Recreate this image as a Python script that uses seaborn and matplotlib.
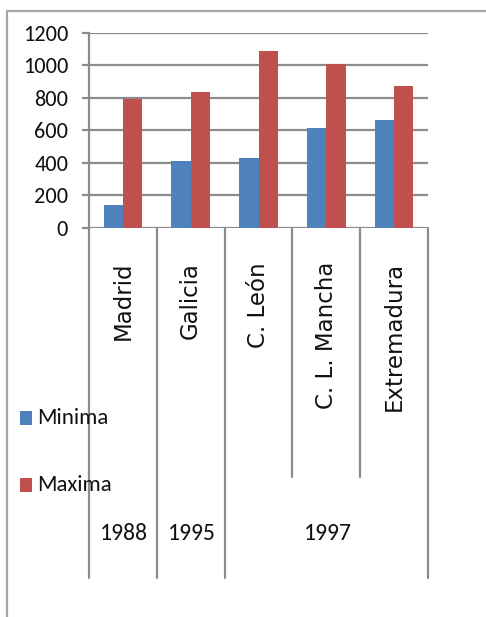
import matplotlib
matplotlib.use("Agg")
import matplotlib.pyplot as plt
from matplotlib.lines import Line2D
import matplotlib.transforms as mtransforms
import seaborn as sns
import pandas as pd

# Data
regions = ["Madrid", "Galicia", "C. León", "C. L. Mancha", "Extremadura"]
minima = [140, 410, 430, 615, 665]
maxima = [790, 835, 1090, 1005, 870]
years = ["1988", "1995", "1997"]
year_spans = [(0, 0), (1, 1), (2, 4)]  # first and last region index per year
series = ["Minima", "Maxima"]
colors = ["#4F81BD", "#C0504D"]
yticks = [0, 200, 400, 600, 800, 1000, 1200]

df = pd.DataFrame({
    "region": regions * 2,
    "serie": [series[0]] * len(regions) + [series[1]] * len(regions),
    "valor": minima + maxima,
})

sns.set_theme(style="white")
plt.rcParams["font.family"] = ["Carlito", "DejaVu Sans"]
wide = ["DejaVu Sans"]

W, H = 486, 617
fig = plt.figure(figsize=(W / 100, H / 100), dpi=100)
fig.patch.set_facecolor("white")

def fx(px):
    return px / W

def fy(py):
    return 1 - py / H

left, right, top, bottom = 89, 428, 32.7, 227.7
ax = fig.add_axes([fx(left), fy(bottom), fx(right - left), (bottom - top) / H])

sns.barplot(data=df, x="region", y="valor", hue="serie", order=regions,
            hue_order=series, palette=colors, width=0.57, saturation=1,
            edgecolor="none", ax=ax, legend=False)

grid_c = "#8C8C8C"
text_c = "#111111"
ax.set_ylim(0, 1200)
ax.set_xlim(-0.5, len(regions) - 0.5)
ax.set_yticks(yticks)
ax.set_yticklabels([str(v) for v in yticks], fontsize=16, color=text_c)
ax.set_xticks([])
ax.set_xlabel("")
ax.set_ylabel("")
ax.yaxis.grid(True, color=grid_c, linewidth=1.6)
ax.set_axisbelow(True)
ax.tick_params(axis="y", length=5, width=1.6, color=grid_c, pad=10, left=True)
for s in ["top", "right", "bottom"]:
    ax.spines[s].set_visible(False)
ax.spines["left"].set_color(grid_c)
ax.spines["left"].set_linewidth(1.6)

# Category separators below the axis (data x, figure y)
trans = mtransforms.blended_transform_factory(ax.transData, fig.transFigure)
outer_bounds = [-0.5, 0.5, 1.5, len(regions) - 0.5]
inner_bounds = [2.5, 3.5]
for b in outer_bounds:
    ax.add_line(Line2D([b, b], [fy(bottom), fy(578)], transform=trans,
                       color=grid_c, lw=1.6, clip_on=False))
for b in inner_bounds:
    ax.add_line(Line2D([b, b], [fy(bottom), fy(477)], transform=trans,
                       color=grid_c, lw=1.6, clip_on=False))

# Region labels (rotated) and year labels
for i, r in enumerate(regions):
    ax.text(i, fy(262), r, transform=trans, rotation=90, ha="center",
            va="top", fontsize=16.5, family=wide, color=text_c)
for yr, (a, b) in zip(years, year_spans):
    ax.text((a + b) / 2 + 0.02, fy(533), yr, transform=trans, ha="center",
            va="center", fontsize=17, color=text_c)

# Legend
for name, c, ypx in zip(series, colors, [418, 485]):
    fig.add_artist(plt.Rectangle((fx(20), fy(ypx + 7)), fx(12), 14 / H,
                                 transform=fig.transFigure, color=c, lw=0))
    fig.text(fx(37), fy(ypx), name, ha="left", va="center", fontsize=16.5,
             color=text_c)

# Outer chart frame
frame_c = "#A6A6A6"
fig.add_artist(Line2D([fx(7), fx(7)], [fy(11), 0], transform=fig.transFigure,
                      color=frame_c, lw=1.6))
fig.add_artist(Line2D([fx(7), 1], [fy(11), fy(11)], transform=fig.transFigure,
                      color=frame_c, lw=1.6))

fig.savefig("out.png", dpi=100)
